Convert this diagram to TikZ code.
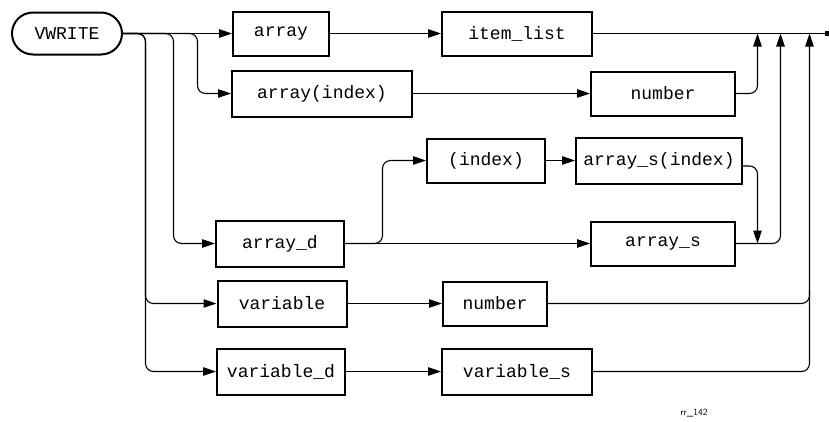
\documentclass[tikz,border=0pt]{standalone}
\usepackage{fontspec}
\setmonofont{Liberation Mono}
\usetikzlibrary{arrows.meta}
\begin{document}
\begin{tikzpicture}[x=1pt,y=-1pt,
  box/.style={draw,line width=2pt,minimum height=44pt,inner sep=0pt,
    font=\ttfamily\fontsize{18}{21}\selectfont},
  conn/.style={line width=1.1pt,rounded corners=8pt},
  arr/.style={conn,-{Triangle[length=13pt,width=8.5pt]}}]
\useasboundingbox (0,0) rectangle (829,421);
% nodes
\node[box,rounded corners=21pt,minimum width=110pt,minimum height=42pt] (vw) at (67,33.5) {VWRITE};
\node[box,minimum width=96pt] (arr) at (281,33.5) {array};
\node[box,minimum width=150pt] (il) at (517,33.5) {item\_list};
\node[box,minimum width=180pt,minimum height=46pt] (aidx) at (322,93.5) {array(index)};
\node[box,minimum width=144pt] (num1) at (663,93.5) {number};
\node[box,minimum width=118pt] (idx) at (486,160.5) {(index)};
\node[box,minimum width=166pt,minimum height=46pt] (asidx) at (659,161) {array\_s(index)};
\node[box,minimum width=144pt] (as) at (663,243.5) {array\_s};
\node[box,minimum width=128pt,minimum height=46pt] (ad) at (280,243.5) {array\_d};
\node[box,minimum width=129pt,minimum height=46pt] (var) at (282,303.5) {variable};
\node[box,minimum width=104pt] (num2) at (495,303.5) {number};
\node[box,minimum width=128pt,minimum height=46pt] (vd) at (281,371.5) {variable\_d};
\node[box,minimum width=150pt,minimum height=46pt] (vs) at (517,371.5) {variable\_s};
\node[font=\sffamily\fontsize{9.5}{10}\selectfont,inner sep=0pt] (lab) at (694,413) {rr\_142};
\coordinate (end) at (825,33.5);
% main line
\draw[arr] (vw.east) -- (arr.west);
\draw[arr] (arr.east) -- (il.west);
\draw[conn] (il.east) -- (end);
\fill (end) ++(0,-2.5) rectangle ++(4,5);
% left branches
\draw[arr] (vw.east) -- (197.5,33.5) -- (197.5,93.5) -- (aidx.west);
\draw[arr] (vw.east) -- (173.5,33.5) -- (173.5,243.5) -- (ad.west);
\draw[arr] (vw.east) -- (145.5,33.5) -- (145.5,303.5) -- (var.west);
\draw[arr] (vw.east) -- (145.5,33.5) -- (145.5,371.5) -- (vd.west);
% row connections
\draw[arr] (aidx.east) -- (num1.west);
\draw[arr] (ad.east) -- (as.west);
\draw[arr] (ad.east) -- (382.5,243.5) -- (382.5,160.5) -- (idx.west);
\draw[arr] (idx.east) -- (idx.east -| asidx.west);
\draw[arr] ([yshift=-5pt]asidx.east) -- (757.5,166) -- (757.5,243.5);
% right returns
\draw[arr] (num1.east) -- (757.5,93.5) -- (757.5,33.5);
\draw[arr] (as.east) -- (780.5,243.5) -- (780.5,33.5);
\draw[arr] (vs.east) -- (809.5,371.5) -- (809.5,33.5);
\draw[conn] (num2.east) -- (809.5,303.5) -- (809.5,290);
\draw[arr] (var.east) -- (num2.west);
\draw[arr] (vd.east) -- (vs.west);
\end{tikzpicture}
\end{document}
